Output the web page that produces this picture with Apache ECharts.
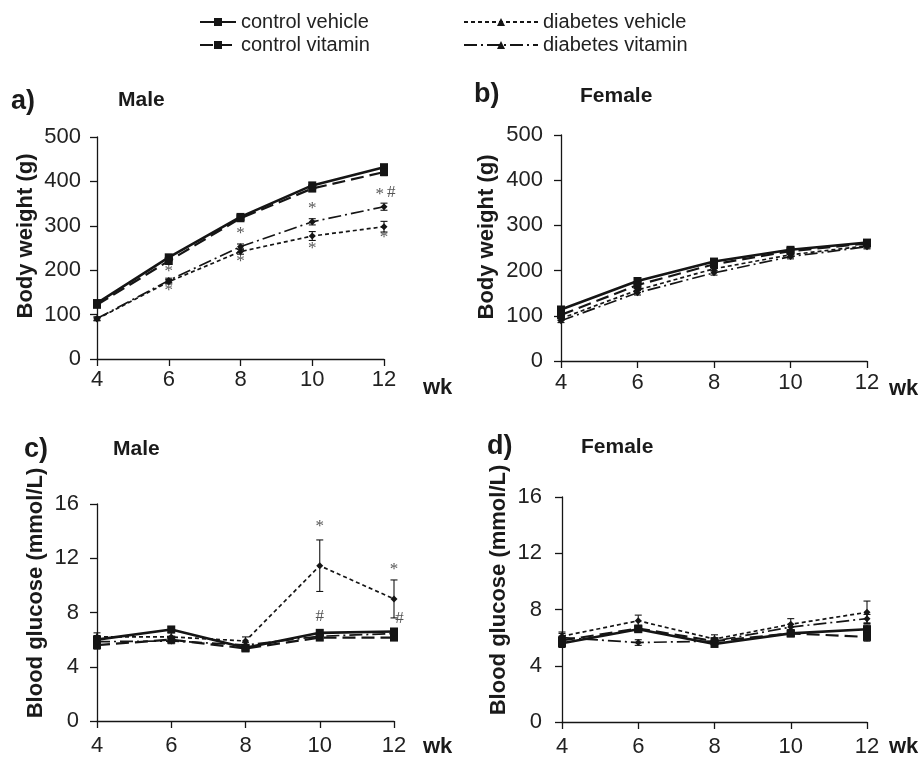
<!DOCTYPE html>
<html><head><meta charset="utf-8">
<script src="https://cdn.jsdelivr.net/npm/echarts@6/dist/echarts.min.js"></script>
<style>html,body{margin:0;padding:0;background:#fff}#c{width:921px;height:763px}</style>
</head><body><div id="c"></div>
<script>
const weeks = [4, 6, 8, 10, 12];
const bwTicks = [0, 100, 200, 300, 400, 500];
const bgTicks = [0, 4, 8, 12, 16];

// a) Male body weight (g)
const bwMaleCtrlVeh = [126, 229, 320, 391, 432];
const bwMaleCtrlVit = [122, 221, 317, 384, 421];
const bwMaleDiabVeh = [90, 174, 242, 277, 298];
const bwMaleDiabVit = [91, 177, 253, 309, 343];
const bwMaleCtrlVehErr = [5, 6, 6, 6, 6];
const bwMaleCtrlVitErr = [6, 8, 7, 7, 8];
const bwMaleDiabVehErr = [4, 5, 6, 10, 12];
const bwMaleDiabVitErr = [4, 5, 6, 7, 8];

// b) Female body weight (g)
const bwFemCtrlVeh = [114, 177, 220, 246, 262];
const bwFemCtrlVit = [102, 168, 214, 243, 260];
const bwFemDiabVeh = [94, 157, 204, 235, 255];
const bwFemDiabVit = [89, 151, 195, 231, 253];
const bwFemErr = [4, 5, 5, 5, 5];

// c) Male blood glucose (mmol/L)
const bgMaleCtrlVeh = [6.0, 6.75, 5.4, 6.5, 6.6];
const bgMaleCtrlVit = [5.6, 6.0, 5.35, 6.15, 6.15];
const bgMaleDiabVeh = [6.2, 6.2, 5.9, 11.45, 9.0];
const bgMaleDiabVit = [5.85, 5.9, 5.6, 6.25, 6.45];
const bgMaleCtrlVehErr = [0.3, 0.2, 0.2, 0.2, 0.2];
const bgMaleCtrlVitErr = [0.3, 0.2, 0.2, 0.2, 0.2];
const bgMaleDiabVehErr = [0.3, 0.3, 0.3, 1.9, 1.4];
const bgMaleDiabVitErr = [0.4, 0.2, 0.2, 0.2, 0.3];

// d) Female blood glucose (mmol/L)
const bgFemCtrlVeh = [5.6, 6.6, 5.55, 6.3, 6.6];
const bgFemCtrlVit = [5.8, 6.65, 5.75, 6.3, 6.05];
const bgFemDiabVeh = [6.1, 7.2, 5.9, 6.95, 7.8];
const bgFemDiabVit = [6.0, 5.65, 5.75, 6.75, 7.35];
const bgFemCtrlErr = [0.3, 0.2, 0.2, 0.2, 0.3];
const bgFemDiabVehErr = [0.3, 0.4, 0.3, 0.4, 0.8];
const bgFemDiabVitErr = [0.3, 0.2, 0.2, 0.2, 0.3];

// significance marks [week, value, mark]
const notesA = [[6, 197, '*'], [6, 154, '*'], [8, 283, '*'], [8, 219, '*'], [10, 339, '*'], [10, 249, '*'], [11.88, 371, '*'], [12.2, 374, '#'], [12, 273, '*']];
const notesC = [[10, 14.35, '*'], [10, 7.7, '#'], [12, 11.15, '*'], [12.15, 7.57, '#']];

const seriesNames = ['control vehicle', 'control vitamin', 'diabetes vehicle', 'diabetes vitamin'];

const INK = '#151515';
const FONT = 'Liberation Sans, Arial, sans-serif';
const styles = [
  {type: 'solid', width: 2.6, symbol: 'rect', size: 8, legendSymbol: 'rect'},
  {type: [13, 6], width: 2.2, symbol: 'rect', size: 8, legendSymbol: 'rect'},
  {type: [4, 3], width: 1.7, symbol: 'diamond', size: 7, legendSymbol: 'triangle'},
  {type: [13, 4, 2, 4], width: 1.7, symbol: 'diamond', size: 7, legendSymbol: 'triangle'}
];

const panels = [
  {grid: {left: 97, top: 137, width: 287, height: 222}, y: bwTicks, vals: [bwMaleCtrlVeh, bwMaleCtrlVit, bwMaleDiabVeh, bwMaleDiabVit],
   errs: [bwMaleCtrlVehErr, bwMaleCtrlVitErr, bwMaleDiabVehErr, bwMaleDiabVitErr], notes: notesA, xm: 10, ym: 16},
  {grid: {left: 561, top: 135, width: 306, height: 226}, y: bwTicks, vals: [bwFemCtrlVeh, bwFemCtrlVit, bwFemDiabVeh, bwFemDiabVit],
   errs: [bwFemErr, bwFemErr, bwFemErr, bwFemErr], notes: [], xm: 11, ym: 18},
  {grid: {left: 97, top: 504, width: 297, height: 217}, y: bgTicks, vals: [bgMaleCtrlVeh, bgMaleCtrlVit, bgMaleDiabVeh, bgMaleDiabVit],
   errs: [bgMaleCtrlVehErr, bgMaleCtrlVitErr, bgMaleDiabVehErr, bgMaleDiabVitErr], notes: notesC, xm: 14, ym: 18},
  {grid: {left: 562, top: 497, width: 305, height: 225}, y: bgTicks, vals: [bgFemCtrlVeh, bgFemCtrlVit, bgFemDiabVeh, bgFemDiabVit],
   errs: [bgFemCtrlErr, bgFemCtrlErr, bgFemDiabVehErr, bgFemDiabVitErr], notes: [], xm: 14, ym: 20}
];

const grids = [], xAxes = [], yAxes = [], series = [];
panels.forEach((p, i) => {
  grids.push(p.grid);
  xAxes.push({type: 'value', gridIndex: i, min: weeks[0], max: weeks[weeks.length - 1], interval: 2,
    axisLine: {lineStyle: {color: INK, width: 1.3}}, axisTick: {length: 7, lineStyle: {color: INK, width: 1.3}},
    splitLine: {show: false}, axisLabel: {color: '#222', fontSize: 22, fontFamily: FONT, margin: p.xm}});
  const yt = p.y;
  yAxes.push({type: 'value', gridIndex: i, min: yt[0], max: yt[yt.length - 1], interval: yt[1] - yt[0],
    axisLine: {show: true, lineStyle: {color: INK, width: 1.3}}, axisTick: {show: true, length: 7, lineStyle: {color: INK, width: 1.3}},
    splitLine: {show: false}, axisLabel: {color: '#222', fontSize: 22, fontFamily: FONT, margin: p.ym}});
  p.vals.forEach((v, k) => {
    const s = styles[k];
    series.push({type: 'custom', xAxisIndex: i, yAxisIndex: i, silent: true, z: 3,
      data: weeks.map((w, j) => [w, v[j] - p.errs[k][j], v[j] + p.errs[k][j]]),
      encode: {x: 0, y: [1, 2]},
      renderItem: (params, api) => {
        const x = api.value(0);
        const a = api.coord([x, api.value(1)]);
        const b = api.coord([x, api.value(2)]);
        const st = {stroke: INK, lineWidth: 1.1};
        return {type: 'group', children: [
          {type: 'line', shape: {x1: a[0], y1: a[1], x2: b[0], y2: b[1]}, style: st},
          {type: 'line', shape: {x1: a[0] - 3.5, y1: a[1], x2: a[0] + 3.5, y2: a[1]}, style: st},
          {type: 'line', shape: {x1: b[0] - 3.5, y1: b[1], x2: b[0] + 3.5, y2: b[1]}, style: st}
        ]};
      }});
    series.push({type: 'line', name: 'p' + i + '-' + k, xAxisIndex: i, yAxisIndex: i, z: 4,
      data: weeks.map((w, j) => [w, v[j]]), symbol: s.symbol, symbolSize: s.size, showSymbol: true,
      lineStyle: {color: INK, width: s.width, type: s.type}, itemStyle: {color: INK}, animation: false});
  });
  if (p.notes.length) {
    series.push({type: 'scatter', xAxisIndex: i, yAxisIndex: i, symbolSize: 1, clip: false, itemStyle: {color: 'rgba(0,0,0,0)'}, z: 5,
      data: p.notes.map(n => ({value: [n[0], n[1]], name: n[2]})),
      label: {show: true, position: 'inside', formatter: '{b}', color: '#2a2a2a', fontSize: 17, fontFamily: 'Liberation Serif, serif'}});
  }
});

// legend-only series
seriesNames.forEach((nm, k) => {
  const s = styles[k];
  series.push({type: 'line', name: nm, xAxisIndex: 0, yAxisIndex: 0, data: [], symbol: s.legendSymbol, symbolSize: 9,
    lineStyle: {color: INK, width: s.width, type: s.type}, itemStyle: {color: INK}});
});

const txt = (x, y, text, size, bold, rot) => ({type: 'text', x: x, y: y, rotation: rot || 0,
  style: {text: text, fill: '#1a1a1a', font: (bold ? 'bold ' : '') + size + 'px ' + FONT, textAlign: rot ? 'center' : 'left', textVerticalAlign: 'middle'}});

const graphics = [
  txt(11, 102, 'a)', 27, true), txt(118, 100, 'Male', 21, true),
  txt(474, 95, 'b)', 27, true), txt(580, 96, 'Female', 21, true),
  txt(24, 450, 'c)', 27, true), txt(113, 449, 'Male', 21, true),
  txt(487, 447, 'd)', 27, true), txt(581, 447, 'Female', 21, true),
  txt(26, 236, 'Body weight (g)', 22, true, Math.PI / 2),
  txt(487, 237, 'Body weight (g)', 22, true, Math.PI / 2),
  txt(36, 593, 'Blood glucose (mmol/L)', 22, true, Math.PI / 2),
  txt(499, 590, 'Blood glucose (mmol/L)', 22, true, Math.PI / 2),
  txt(423, 388, 'wk', 22, true), txt(889, 389, 'wk', 22, true),
  txt(423, 747, 'wk', 22, true), txt(889, 747, 'wk', 22, true)
];

const legendText = {color: '#222', fontSize: 20, fontFamily: FONT};
const chart = echarts.init(document.getElementById('c'), null, {renderer: 'canvas'});
chart.setOption({
  animation: false,
  backgroundColor: '#fff',
  grid: grids, xAxis: xAxes, yAxis: yAxes, series: series, graphic: graphics,
  legend: [
    {left: 194, top: 7, orient: 'vertical', itemWidth: 36, itemHeight: 10, itemGap: 3, selectedMode: false,
     data: seriesNames.slice(0, 2), textStyle: legendText},
    {left: 458, top: 7, orient: 'vertical', itemWidth: 74, itemHeight: 10, itemGap: 3, selectedMode: false,
     data: seriesNames.slice(2), textStyle: legendText}
  ]
});
</script></body></html>
